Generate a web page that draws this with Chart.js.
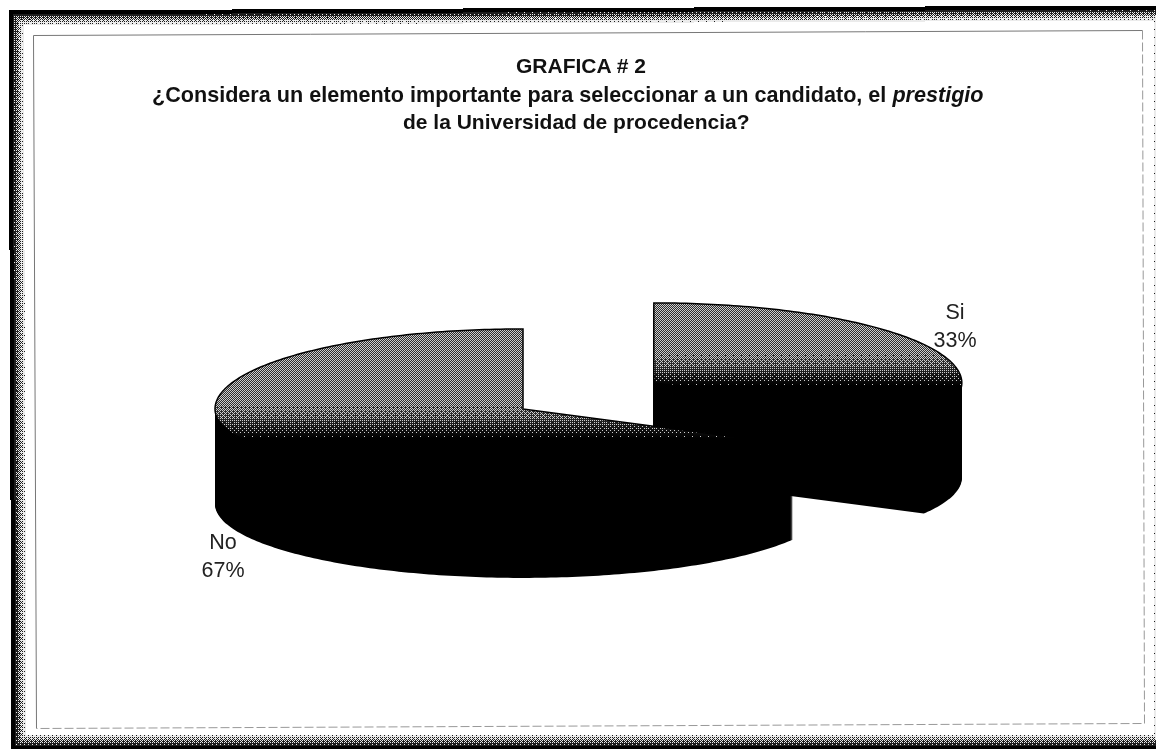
<!DOCTYPE html>
<html lang="es">
<head>
<meta charset="utf-8">
<title>GRAFICA # 2</title>
<script src="https://cdn.jsdelivr.net/npm/chart.js@4"></script>
<style>
  html, body { margin: 0; padding: 0; background: #fff; overflow: hidden; }
  #wrap { position: relative; width: 1156px; height: 749px; filter: blur(0.45px); }
  canvas { position: absolute; left: 0; top: 0; }
  .t { position: absolute; margin: 0; white-space: nowrap; color: #111;
       font: bold 21px/24px "Liberation Sans", Arial, sans-serif; }
</style>
</head>
<body>
<div id="wrap">
  <canvas id="pie" width="1156" height="749"></canvas>
  <div class="t" style="left:516px;top:54px">GRAFICA # 2</div>
  <div class="t" style="left:152px;top:83px;font-size:21.6px">¿Considera un elemento importante para seleccionar a un candidato, el <i>prestigio</i></div>
  <div class="t" style="left:403px;top:110px">de la Universidad de procedencia?</div>
</div>
<script>
// datos de la grafica
const categories = ['Si', 'No'];
const values = [33, 67];

// estilo
const sliceOffset = [152, 0];
const labelAnchor = [[955, 313], [223, 543]];
const fadeStart = [353, 403];
const fadeEnd = [385, 438];
const kBack = 0.26, kFront = 0.24, kOffset = 0.336, depth = 95;

const bayer = [
  [0, 32, 8, 40, 2, 34, 10, 42],
  [48, 16, 56, 24, 50, 18, 58, 26],
  [12, 44, 4, 36, 14, 46, 6, 38],
  [60, 28, 52, 20, 62, 30, 54, 22],
  [3, 35, 11, 43, 1, 33, 9, 41],
  [51, 19, 59, 27, 49, 17, 57, 25],
  [15, 47, 7, 39, 13, 45, 5, 37],
  [63, 31, 55, 23, 61, 29, 53, 21]
];

// textura tramada, clara arriba y negra desde yEnd
function ditherPattern(ctx, yStart, yEnd) {
  const c = document.createElement('canvas');
  c.width = 8; c.height = 749;
  const g = c.getContext('2d');
  const img = g.createImageData(8, 749);
  for (let y = 0; y < 749; y++) {
    let level = 0.5;
    if (y > yStart) level = Math.max(0, 0.5 * (1 - (y - yStart) / (yEnd - yStart)));
    for (let x = 0; x < 8; x++) {
      const v = level * 64 > bayer[y % 8][x] ? 205 : 45 * Math.min(1, level * 3);
      const p = (y * 8 + x) * 4;
      img.data[p] = img.data[p + 1] = img.data[p + 2] = v;
      img.data[p + 3] = 255;
    }
  }
  g.putImageData(img, 0, 0);
  return ctx.createPattern(c, 'repeat');
}

function project(arc, a) {
  const mid = (arc.startAngle + arc.endAngle) / 2;
  const off = arc.options.offset;
  const s = Math.sin(a);
  const cx = arc.x + off * Math.cos(mid);
  const cy = arc.y + off * Math.sin(mid) * kOffset;
  return {
    x: cx + arc.outerRadius * Math.cos(a),
    y: cy + arc.outerRadius * s * (s < 0 ? kBack : kFront),
    cx: cx,
    cy: cy
  };
}

function slicePath(ctx, arc, dy) {
  const step = Math.PI / 180;
  const first = project(arc, arc.startAngle);
  ctx.beginPath();
  ctx.moveTo(first.cx, first.cy + dy);
  for (let a = arc.startAngle; a < arc.endAngle; a += step) {
    const p = project(arc, a);
    ctx.lineTo(p.x, p.y + dy);
  }
  const last = project(arc, arc.endAngle);
  ctx.lineTo(last.x, last.y + dy);
  ctx.closePath();
}

const pie3d = {
  id: 'pie3d',
  beforeDatasetsDraw(chart) {
    const ctx = chart.ctx;
    const arcs = chart.getDatasetMeta(0).data;
    arcs.forEach((arc, i) => {
      ctx.save();
      ctx.fillStyle = '#000';
      for (let d = depth; d > 0; d--) {
        slicePath(ctx, arc, d);
        ctx.fill();
      }
      slicePath(ctx, arc, 0);
      ctx.fillStyle = ditherPattern(ctx, fadeStart[i], fadeEnd[i]);
      ctx.fill();
      ctx.strokeStyle = '#000';
      ctx.lineWidth = 1.5;
      ctx.stroke();
      ctx.restore();
    });
  },
  beforeDatasetDraw() {
    return false; // el plano lo dibuja pie3d
  }
};

// marco del escaneo, banda negra que se deshace en trama
function frameImage() {
  const c = document.createElement('canvas');
  c.width = 1156; c.height = 749;
  const g = c.getContext('2d');
  const img = g.createImageData(1156, 749);
  for (let y = 0; y < 749; y++) {
    for (let x = 0; x < 1156; x++) {
      const top = 10 - 5 * x / 1156;
      const left = 8 + 3 * y / 749;
      const d = Math.min(y - top, x - left, 749 - y, 1168 - x);
      const outside = y < top || x < left;
      let v = 255;
      if (!outside && d < 4) v = 0;
      else if (!outside && d < 15) v = (d - 4) / 11 * 64 > bayer[y % 8][x % 8] ? 235 : 30;
      const p = (y * 1156 + x) * 4;
      img.data[p] = img.data[p + 1] = img.data[p + 2] = v;
      img.data[p + 3] = 255;
    }
  }
  g.putImageData(img, 0, 0);
  return c;
}

const scanFrame = {
  id: 'scanFrame',
  beforeDraw(chart) {
    const ctx = chart.ctx;
    ctx.drawImage(frameImage(), 0, 0);
    ctx.save();
    ctx.lineWidth = 1;
    ctx.strokeStyle = '#777';
    ctx.beginPath();
    ctx.moveTo(36.5, 728.5);
    ctx.lineTo(33.5, 35.5);
    ctx.lineTo(1142.5, 30.5);
    ctx.stroke();
    ctx.strokeStyle = '#999';
    ctx.setLineDash([9, 3]);
    ctx.beginPath();
    ctx.moveTo(1142.5, 30.5);
    ctx.lineTo(1144.5, 723.5);
    ctx.lineTo(36.5, 728.5);
    ctx.stroke();
    ctx.restore();
  }
};

const sliceLabels = {
  id: 'sliceLabels',
  afterDatasetsDraw(chart) {
    const ctx = chart.ctx;
    ctx.save();
    ctx.font = '21.5px "Liberation Sans", Arial, sans-serif';
    ctx.fillStyle = '#222';
    ctx.textAlign = 'center';
    ctx.textBaseline = 'middle';
    categories.forEach((name, i) => {
      ctx.fillText(name, labelAnchor[i][0], labelAnchor[i][1]);
      ctx.fillText(values[i] + '%', labelAnchor[i][0], labelAnchor[i][1] + 28);
    });
    ctx.restore();
  }
};

new Chart(document.getElementById('pie').getContext('2d'), {
  type: 'pie',
  data: {
    labels: categories,
    datasets: [{
      data: values,
      backgroundColor: '#000',
      borderWidth: 0,
      offset: sliceOffset
    }]
  },
  options: {
    responsive: false,
    animation: false,
    events: [],
    radius: 308,
    layout: { padding: { left: 0, right: 110, top: 69, bottom: 0 } },
    plugins: { legend: { display: false }, tooltip: { enabled: false }, title: { display: false } }
  },
  plugins: [scanFrame, pie3d, sliceLabels]
});
</script>
</body>
</html>
